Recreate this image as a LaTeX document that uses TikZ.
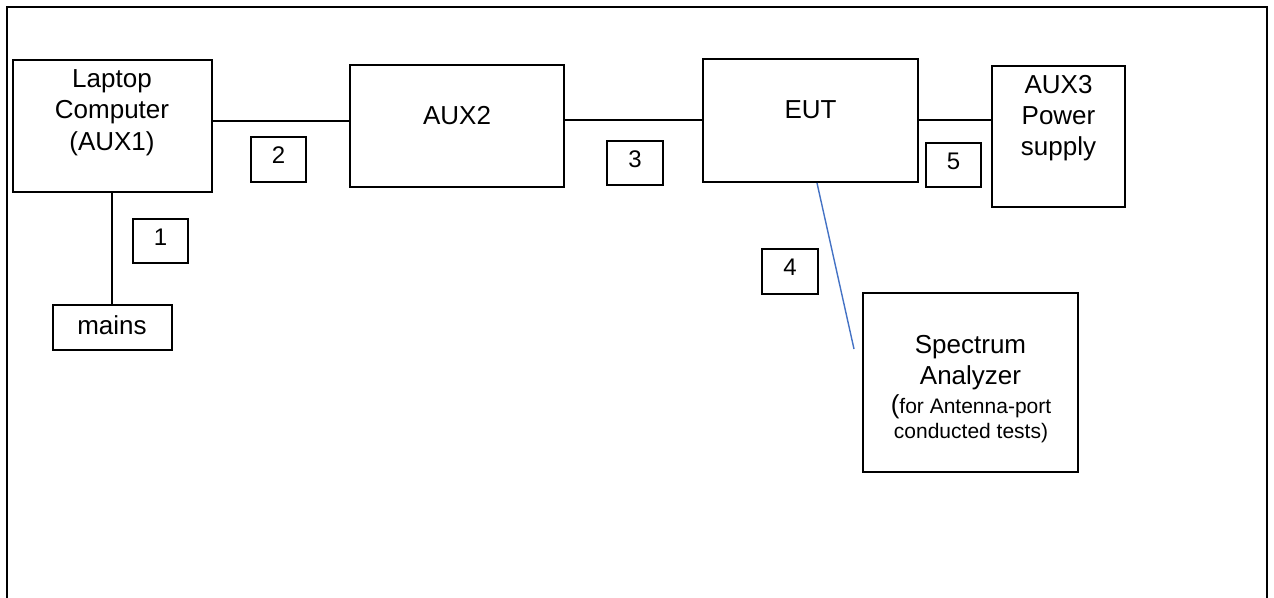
\documentclass[tikz,border=0pt]{standalone}
\usepackage{fontspec}
\setmainfont{Liberation Sans}
\definecolor{cableblue}{RGB}{68,114,196}
\begin{document}
\begin{tikzpicture}[x=1pt,y=-1pt,
  box/.style={draw, line width=2pt, inner sep=0pt, rectangle},
  lbl/.style={anchor=base, inner sep=0pt, font=\fontsize{26}{31}\selectfont},
  sml/.style={anchor=base, inner sep=0pt, font=\fontsize{21}{25}\selectfont},
  num/.style={anchor=base, inner sep=0pt, font=\fontsize{24}{28}\selectfont},
  wire/.style={line width=2pt},
  rfwire/.style={line width=1.4pt, draw=cableblue}]
\useasboundingbox (0,0) rectangle (1274,597);
\clip (0,0) rectangle (1274,597);
\draw[line width=2.2pt] (7,620) -- (7,7) -- (1267,7) -- (1267,620);

% boxes
\node[box, minimum width=199pt, minimum height=132pt] (lap)   at (112,126)     {};
\node[box, minimum width=214pt, minimum height=122pt] (aux2)  at (457,126)     {};
\node[box, minimum width=215pt, minimum height=123pt] (eut)   at (810.5,120.5) {};
\node[box, minimum width=133pt, minimum height=141pt] (aux3)  at (1058.5,136.5){};
\node[box, minimum width=215pt, minimum height=179pt] (spec)  at (970.5,382.5) {};
\node[box, minimum width=119pt, minimum height=45pt]  (mains) at (112,327.5)   {};
\node[box, minimum width=55pt, minimum height=44pt] (n1) at (160.5,241)   {};
\node[box, minimum width=55pt, minimum height=45pt] (n2) at (278.5,159.5) {};
\node[box, minimum width=56pt, minimum height=44pt] (n3) at (635,163)     {};
\node[box, minimum width=56pt, minimum height=45pt] (n4) at (790,271.5)   {};
\node[box, minimum width=55pt, minimum height=44pt] (n5) at (953.5,165)   {};

% texts
\node[lbl] (lapA) at (112,87)  {Laptop};
\node[lbl] (lapB) at (112,118) {Computer};
\node[lbl] (lapC) at (112,150) {(AUX1)};
\node[lbl] (aux2t) at (457,124) {AUX2};
\node[lbl] (eutt) at (810.5,118) {EUT};
\node[lbl] (aux3A) at (1058.5,93)  {AUX3};
\node[lbl] (aux3B) at (1058.5,124) {Power};
\node[lbl] (aux3C) at (1058.5,155) {supply};
\node[lbl] (specA) at (970.5,353) {Spectrum};
\node[lbl] (specB) at (970.5,384) {Analyzer};
\node[sml] (specC) at (971,413) {{\fontsize{26}{31}\selectfont(}for Antenna-port};
\node[sml] (specD) at (971,438) {conducted tests)};
\node[lbl] (mainst) at (112,334) {mains};
\node[num] (t1) at (160.5,245) {1};
\node[num] (t2) at (278.5,163) {2};
\node[num] (t3) at (635,167)   {3};
\node[num] (t4) at (790,275)   {4};
\node[num] (t5) at (953.5,169) {5};

% connectors
\coordinate (yA) at (0,121);
\coordinate (yB) at (0,120);
\coordinate (rfend) at (854,349);
\draw[wire] (lap.east |- yA) -- (aux2.west |- yA);
\draw[wire] (aux2.east |- yB) -- (eut.west |- yB);
\draw[wire] (eut.east |- yB) -- (aux3.west |- yB);
\draw[wire] (lap.south) -- (mains.north);
\draw[rfwire] ([xshift=6.5pt]eut.south) -- (rfend);
\end{tikzpicture}
\end{document}
